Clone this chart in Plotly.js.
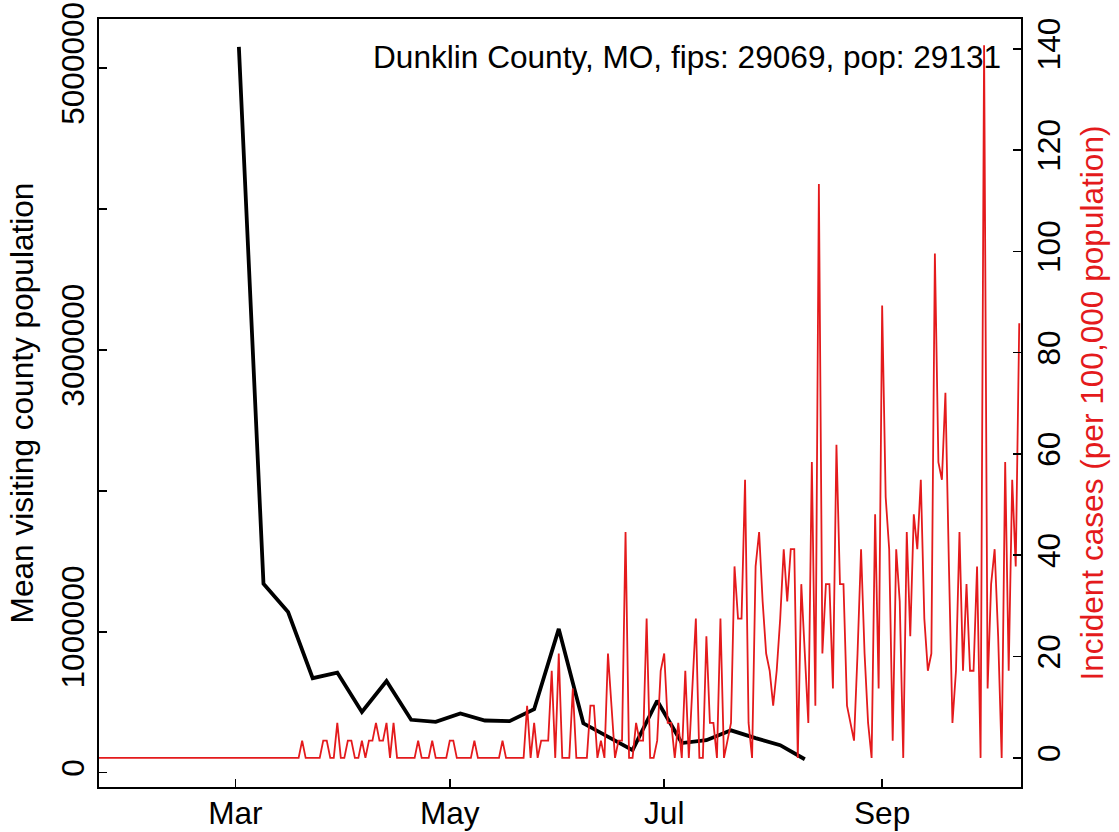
<!DOCTYPE html>
<html>
<head>
<meta charset="utf-8">
<script src="https://cdn.plot.ly/plotly-3.0.1.min.js"></script>
<style>html,body{margin:0;padding:0;background:#fff;}#chart{width:1119px;height:832px;}</style>
</head>
<body>
<div id="chart"></div>
<script>
// ---- Data ----
// Weekly mean visiting county population (black line)
const visitDates = ['2020-03-02','2020-03-09','2020-03-16','2020-03-23','2020-03-30','2020-04-06','2020-04-13','2020-04-20','2020-04-27','2020-05-04','2020-05-11','2020-05-18','2020-05-25','2020-06-01','2020-06-08','2020-06-22','2020-06-29','2020-07-06','2020-07-13','2020-07-20','2020-07-27','2020-08-03','2020-08-10'];
const visitPop = [5150000,1340000,1140000,670000,710000,430000,650000,375000,360000,420000,370000,365000,450000,1020000,350000,160000,510000,210000,230000,300000,245000,195000,95000];

// Daily incident cases per 100,000 population (red line), one value per day starting at caseStartDate
const caseStartDate = '2020-01-22';
const casesJan = [0,0,0,0,0,0,0,0,0,0];
const casesFeb = [0,0,0,0,0,0,0,0,0,0,0,0,0,0,0,0,0,0,0,0,0,0,0,0,0,0,0,0,0];
const casesMar = [0,0,0,0,0,0,0,0,0,0,0,0,0,0,0,0,0,0,0,3.4,0,0,0,0,0,3.4,3.4,0,0,6.9,0];
const casesApr = [0,3.4,3.4,0,0,3.4,0,3.4,3.4,6.9,3.4,3.4,6.9,0,6.9,0,0,0,0,0,0,3.4,0,0,0,3.4,0,0,0,0];
const casesMay = [3.4,3.4,0,0,0,0,0,3.4,0,0,0,0,0,0,0,3.4,0,0,0,0,0,0,10.3,0,6.9,0,3.4,3.4,3.4,17.2,0];
const casesJun = [20.6,0,0,0,13.7,0,0,0,0,10.3,10.3,0,3.4,0,20.6,10.3,0,3.4,3.4,44.6,0,0,6.9,3.4,3.4,27.5,0,0,3.4,17.2];
const casesJul = [20.6,6.9,6.9,0,6.9,0,17.2,0,13.7,27.5,0,0,24.0,6.9,6.9,0,27.5,0,3.4,6.9,37.8,27.5,27.5,54.9,6.9,0,37.8,44.6,30.9,20.6,17.2];
const casesAug = [10.3,17.2,27.5,41.2,30.9,41.2,41.2,0,34.3,20.6,6.9,58.4,10.3,113.3,20.6,34.3,34.3,13.7,61.8,34.3,34.3,10.3,6.9,3.4,20.6,41.2,20.6,6.9,0,48.1,13.7];
const casesSep = [89.3,51.5,41.2,3.4,41.2,30.9,0,44.6,24.0,48.1,41.2,54.9,27.5,17.2,20.6,99.6,58.4,54.9,72.1,37.8,6.9,17.2,44.6,17.2,34.3,17.2,17.2,37.8,0,140.7];
const casesOct = [13.7,34.3,41.2,24.0,0,58.4,17.2,54.9,37.8,85.8];

// Axis ticks
const monthTickVals = ['2020-03-01','2020-05-01','2020-07-01','2020-09-01'];
const monthTickText = ['Mar','May','Jul','Sep'];
const leftTickVals = [0,1000000,2000000,3000000,4000000,5000000];
const leftTickText = ['0','1000000','','3000000','','5000000'];
const rightTickVals = [0,20,40,60,80,100,120,140];
const rightTickText = ['0','20','40','60','80','100','120','140'];

const chartTitle = 'Dunklin County, MO, fips: 29069, pop: 29131';
const leftTitle = 'Mean visiting county population';
const rightTitle = 'Incident cases (per 100,000 population)';

// ---- Build ----
const caseValues = [].concat(casesJan, casesFeb, casesMar, casesApr, casesMay, casesJun, casesJul, casesAug, casesSep, casesOct);
const caseDates = [];
(function(){
  const d0 = new Date(caseStartDate + 'T00:00:00Z');
  for (let i = 0; i < caseValues.length; i++) {
    const d = new Date(d0.getTime() + i * 86400000);
    caseDates.push(d.toISOString().slice(0,10));
  }
})();

const RED = '#e41a1c';
const FONT = 'Liberation Sans, Arial, Helvetica, sans-serif';
const FS = 31.6;

const traces = [
  {x: visitDates, y: visitPop, type: 'scatter', mode: 'lines', line: {color: '#000', width: 3.8}, yaxis: 'y', hoverinfo: 'x+y'},
  {x: caseDates, y: caseValues, type: 'scatter', mode: 'lines', line: {color: RED, width: 1.8}, yaxis: 'y2', hoverinfo: 'x+y'}
];

const axisCommon = {
  showgrid: false, zeroline: false, showline: true, linecolor: '#000', linewidth: 1.6,
  ticks: 'inside', ticklen: 8, tickwidth: 1.6, tickcolor: '#000',
  tickfont: {family: FONT, size: FS, color: '#000'}, automargin: false
};

const layout = {
  width: 1119, height: 832,
  margin: {l: 99, r: 98, t: 19, b: 45, pad: 0},
  paper_bgcolor: '#fff', plot_bgcolor: '#fff',
  showlegend: false,
  font: {family: FONT, size: FS, color: '#000'},
  xaxis: Object.assign({}, axisCommon, {
    type: 'date', range: ['2020-01-22 05:00', '2020-10-10 12:00'],
    tickmode: 'array', tickvals: monthTickVals, ticktext: monthTickText,
    mirror: true, ticklabelstandoff: -3
  }),
  yaxis: Object.assign({}, axisCommon, {
    range: [-102000, 5348000],
    tickmode: 'array', tickvals: leftTickVals, ticktext: leftTickText,
    tickangle: -90, mirror: true, ticklabelstandoff: 1,
    title: {text: leftTitle, font: {family: FONT, size: FS, color: '#000'}, standoff: 11}
  }),
  yaxis2: Object.assign({}, axisCommon, {
    overlaying: 'y', side: 'right', anchor: 'x',
    range: [-5.75, 145.88],
    tickmode: 'array', tickvals: rightTickVals, ticktext: rightTickText,
    tickangle: -90, showline: false, ticklabelstandoff: 6,
    title: {text: rightTitle, font: {family: FONT, size: FS, color: RED}, standoff: 15}
  }),
  annotations: [{
    text: chartTitle, xref: 'paper', yref: 'paper',
    x: (1003 - 99) / 922, y: (787 - 56.5) / 768,
    xanchor: 'right', yanchor: 'middle', showarrow: false,
    font: {family: FONT, size: FS, color: '#000'}
  }]
};

Plotly.newPlot('chart', traces, layout, {displayModeBar: false, staticPlot: true});
</script>
</body>
</html>
